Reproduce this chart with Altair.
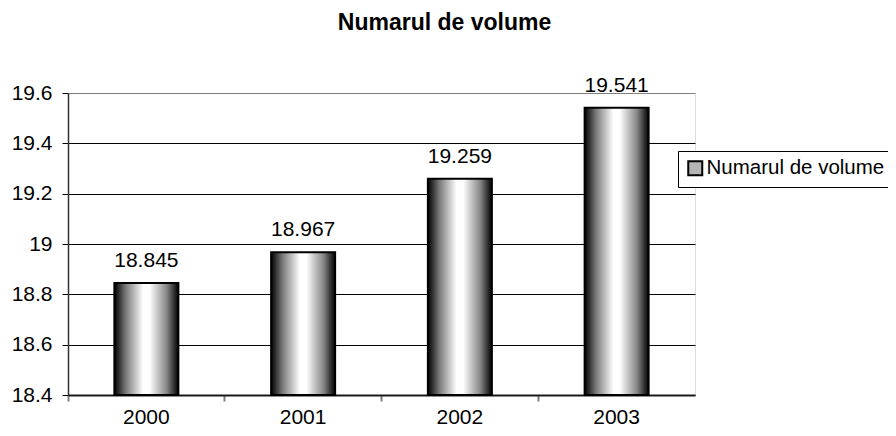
import altair as alt
import pandas as pd

# ---- data ----
years = ["2000", "2001", "2002", "2003"]
volumes = [18.845, 18.967, 19.259, 19.541]
series_name = "Numarul de volume"
y_ticks = [18.4, 18.6, 18.8, 19.0, 19.2, 19.4, 19.6]
y_min, y_max = 18.4, 19.6

df = pd.DataFrame({"year": years, "value": volumes, "series": [series_name] * len(years)})

FONT = "Liberation Sans"
FS = 21

x_scale = alt.Scale(paddingInner=0, paddingOuter=0)
y_scale = alt.Scale(domain=[y_min, y_max], zero=False, nice=False)

gradient = alt.LinearGradient(
    gradient="linear", x1=0, x2=1, y1=0, y2=0,
    stops=[
        alt.GradientStop(offset=0, color="#000000"),
        alt.GradientStop(offset=0.18, color="#7a7a7a"),
        alt.GradientStop(offset=0.45, color="#ffffff"),
        alt.GradientStop(offset=0.55, color="#ffffff"),
        alt.GradientStop(offset=0.82, color="#858585"),
        alt.GradientStop(offset=1, color="#000000"),
    ],
)

x_axis = alt.Axis(
    title=None, bandPosition=0, labelAngle=0,
    labelFont=FONT, labelFontSize=FS, labelColor="black", labelPadding=5,
    tickSize=6, tickColor="#808080", tickWidth=2,
    domainColor="#1a1a1a", domainWidth=2, grid=False,
)
y_axis = alt.Axis(
    title=None, values=y_ticks, format=".3~g",
    labelFont=FONT, labelFontSize=FS, labelColor="black", labelPadding=10,
    tickSize=6, tickColor="black", tickWidth=1,
    domainColor="#333333", domainWidth=1.5,
    grid=True, gridWidth=1,
    gridColor=alt.condition("datum.value > 19.59", alt.value("#808080"), alt.value("black")),
)

bars = alt.Chart(df).mark_bar(color=gradient, stroke="black", strokeWidth=2, width=64).encode(
    x=alt.X("year:N", scale=x_scale, axis=x_axis, sort=years),
    y=alt.Y("value:Q", scale=y_scale, axis=y_axis),
    y2=alt.datum(y_min),
)

labels = alt.Chart(df).mark_text(
    font=FONT, fontSize=FS, color="black", baseline="alphabetic", dy=-16
).encode(
    x=alt.X("year:N", sort=years),
    y=alt.Y("value:Q"),
    text=alt.Text("value:Q", format=".3f"),
)

legend_layer = alt.Chart(df).mark_square(size=0, opacity=0).encode(
    x=alt.X("year:N", sort=years),
    y=alt.Y("value:Q"),
    color=alt.Color(
        "series:N",
        scale=alt.Scale(range=["#b5b5b5"]),
        legend=alt.Legend(
            title=None, orient="none", legendX=610, legendY=58,
            symbolType="square", symbolSize=196, symbolOpacity=1,
            symbolStrokeColor="black", symbolStrokeWidth=2,
            labelFont=FONT, labelFontSize=20.5, labelColor="black", labelOffset=1,
            labelLimit=0, padding=7, fillColor="white", strokeColor="black",
        ),
    ),
)

chart = alt.layer(bars, labels, legend_layer).properties(
    width=627, height=302,
    autosize=alt.AutoSizeParams(type="none"),
    padding={"left": 60, "top": 85, "right": 193, "bottom": 33},
    title=alt.TitleParams(
        text="Numarul de volume", font=FONT, fontSize=23, fontWeight="bold",
        color="black", anchor="middle", frame="group", dx=63, offset=40,
    ),
).configure_view(stroke="#808080", strokeWidth=2).configure(background="white")

chart.save("out.html", embed_options={"renderer": "svg", "actions": False})
